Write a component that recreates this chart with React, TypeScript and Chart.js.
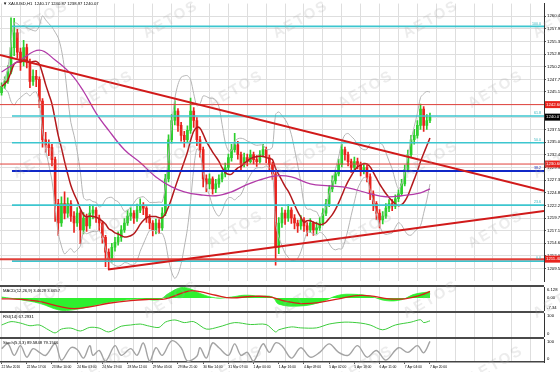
import React, { useEffect, useRef } from "react";
import { Chart, registerables } from "chart.js";
Chart.register(...registerables);

const FONT = '"Liberation Sans", Arial, sans-serif';
const X_MIN = -0.5;
const X_MAX = 172.2;
const AXIS_W = 16;
const GRID = "#dedede";

// ---------- price data (2-hour candles, index 0..136) ----------
const firstOpen = 1245.0;
const closes = [
  1246.3, 1247.3, 1249.2, 1254.1, 1257.1, 1253.2, 1251.2, 1254.1, 1251.2, 1247.3,
  1248.3, 1247.7, 1243.3, 1235.5, 1234.5, 1233.9, 1231.5, 1222.6, 1218.7, 1222.6,
  1220.7, 1222.6, 1220.1, 1218.7, 1220.7, 1217.3, 1219.7, 1218.1, 1220.7, 1221.3,
  1219.7, 1218.7, 1215.8, 1212.8, 1211.4, 1213.8, 1214.8, 1215.8, 1217.3, 1218.7,
  1220.1, 1220.7, 1219.7, 1221.3, 1222.1, 1221.7, 1219.7, 1218.7, 1217.3, 1218.7,
  1217.7, 1220.7, 1227.6, 1235.5, 1239.4, 1241.3, 1238.4, 1236.4, 1235.5, 1237.4,
  1241.3, 1239.4, 1235.5, 1233.5, 1227.6, 1226.6, 1227.6, 1225.6, 1226.6, 1227.6,
  1228.6, 1229.9, 1231.9, 1233.5, 1234.5, 1232.5, 1230.5, 1231.9, 1231.1, 1232.5,
  1231.5, 1231.1, 1232.5, 1233.5, 1231.9, 1230.5, 1228.6, 1213.8, 1218.7, 1220.7,
  1219.7, 1221.3, 1219.7, 1218.7, 1218.1, 1219.3, 1218.1, 1217.3, 1218.7, 1217.3,
  1217.7, 1218.7, 1220.7, 1222.6, 1225.6, 1227.2, 1228.6, 1230.5, 1233.5, 1232.5,
  1231.1, 1229.9, 1231.1, 1230.5, 1229.1, 1229.9, 1228.0, 1224.6, 1222.6, 1220.7,
  1219.3, 1220.1, 1221.7, 1222.6, 1222.1, 1223.6, 1224.6, 1226.6, 1229.5, 1232.5,
  1235.5, 1236.4, 1238.4, 1241.7, 1238.4, 1239.4, 1240.07,
];
const highs = [
  1247.0, 1248.2, 1250.5, 1260.1, 1260.0, 1257.8, 1254.0, 1255.6, 1254.8, 1251.8,
  1249.6, 1249.5, 1248.2, 1243.8, 1237.0, 1235.5, 1234.6, 1232.0, 1223.5, 1224.0,
  1225.0, 1223.8, 1223.2, 1221.0, 1221.8, 1221.2, 1220.8, 1220.5, 1222.4, 1222.2,
  1221.8, 1220.3, 1219.0, 1216.2, 1213.5, 1214.6, 1215.8, 1216.9, 1218.2, 1219.6,
  1221.3, 1221.8, 1221.2, 1222.5, 1223.6, 1222.8, 1222.0, 1220.4, 1219.2, 1219.5,
  1219.4, 1221.8, 1228.5, 1236.5, 1240.6, 1243.4, 1241.8, 1239.0, 1237.2, 1238.3,
  1243.9, 1242.0, 1240.0, 1236.2, 1234.0, 1228.4, 1228.6, 1228.0, 1227.5, 1228.4,
  1229.3, 1230.8, 1232.6, 1234.6, 1236.8, 1235.2, 1233.0, 1232.8, 1232.6, 1233.4,
  1233.0, 1232.3, 1233.3, 1234.6, 1234.0, 1232.4, 1231.0, 1229.0, 1219.8, 1221.8,
  1221.3, 1222.4, 1221.8, 1220.4, 1219.3, 1220.2, 1219.8, 1218.8, 1219.6, 1219.0,
  1218.9, 1219.8, 1221.6, 1223.5, 1226.3, 1228.2, 1229.4, 1231.6, 1234.6, 1234.0,
  1233.0, 1231.6, 1232.0, 1231.8, 1231.0, 1230.8, 1230.4, 1228.6, 1225.2, 1223.0,
  1221.4, 1221.0, 1222.6, 1223.4, 1223.4, 1224.4, 1225.4, 1227.5, 1230.4, 1233.4,
  1236.4, 1237.6, 1239.4, 1242.7, 1242.2, 1240.6, 1240.87,
];
const lows = [
  1244.5, 1245.8, 1246.9, 1248.8, 1252.5, 1252.0, 1249.5, 1250.4, 1250.0, 1246.0,
  1246.5, 1246.2, 1242.0, 1234.0, 1233.0, 1232.3, 1230.2, 1219.0, 1216.2, 1218.0,
  1219.5, 1219.8, 1219.0, 1216.8, 1218.0, 1214.5, 1216.5, 1217.0, 1217.6, 1219.5,
  1218.8, 1217.2, 1214.6, 1209.9, 1209.3, 1210.8, 1213.0, 1214.2, 1215.0, 1216.8,
  1218.2, 1219.2, 1218.6, 1219.0, 1220.8, 1220.4, 1218.8, 1217.5, 1216.1, 1216.5,
  1216.6, 1217.2, 1220.2, 1227.0, 1234.8, 1238.5, 1237.2, 1235.2, 1234.0, 1235.0,
  1236.8, 1238.0, 1234.3, 1232.0, 1226.0, 1225.0, 1225.6, 1224.5, 1224.8, 1225.9,
  1227.0, 1228.0, 1229.4, 1231.2, 1233.0, 1231.6, 1229.4, 1230.0, 1230.2, 1230.8,
  1230.6, 1230.1, 1230.8, 1232.0, 1230.9, 1229.4, 1227.5, 1210.2, 1212.5, 1217.8,
  1218.4, 1219.0, 1218.6, 1217.5, 1216.8, 1217.4, 1217.0, 1216.1, 1216.8, 1216.2,
  1216.5, 1217.2, 1218.2, 1220.2, 1222.0, 1225.0, 1226.6, 1228.2, 1230.0, 1231.4,
  1230.2, 1228.9, 1229.4, 1229.6, 1228.2, 1228.6, 1227.0, 1223.4, 1221.2, 1219.4,
  1217.7, 1218.5, 1219.6, 1221.0, 1221.2, 1221.6, 1223.0, 1224.2, 1226.2, 1229.0,
  1232.0, 1234.6, 1235.8, 1237.6, 1237.2, 1237.6, 1238.97,
];

// long moving average (purple)
const purpleIdx = [0, 6, 12, 17, 22, 26, 30, 34, 39, 44, 49, 54, 58, 63, 68, 73, 77, 82, 87, 92, 98, 104, 110, 117, 122, 127, 133, 136];
const purpleVal = [1249.2, 1251.6, 1253.6, 1251.6, 1248.8, 1245.3, 1240.9, 1237.4, 1233.5, 1230.9, 1228.0, 1226.0, 1225.0, 1224.4, 1224.2, 1225.0, 1226.2, 1227.4, 1228.2, 1228.0, 1226.6, 1226.2, 1225.8, 1224.6, 1224.0, 1224.2, 1224.8, 1225.6];

// levels and trend lines
const fibLevels = [1211.0, 1222.3, 1229.2, 1234.9, 1240.3, 1258.4];
const fibNames = ["0.0", "23.6", "38.2", "50.0", "61.8", "100.0"];
const fibStart = 3.3;
const redLevels = [1242.6, 1230.6, 1211.4];
const redWidths = [1, 1, 2];
const trendDownX = [X_MIN, X_MAX];
const trendDownY = [1252.6, 1225.2];
const trendUpX = [33.8, X_MAX];
const trendUpY = [1209.3, 1221.1];

// axes
const priceTicks = [1260.45, 1257.9, 1255.35, 1252.8, 1250.25, 1247.7, 1245.15, 1242.6, 1240.05, 1237.5, 1235.0, 1232.45, 1229.9, 1227.35, 1224.8, 1222.25, 1219.7, 1217.14, 1214.6, 1212.05, 1209.5];
const priceMin = 1206.9;
const priceMax = 1263.0;
const timeTickIdx = [0, 8, 16, 24, 32, 40, 48, 56, 64, 72, 80, 88, 96, 104, 112, 120, 128, 136];
const timeLabels = ["22 Mar 2016", "22 Mar 17:00", "23 Mar 10:00", "24 Mar 03:00", "24 Mar 19:00", "28 Mar 12:00", "29 Mar 05:00", "29 Mar 21:00", "30 Mar 14:00", "31 Mar 07:00", "1 Apr 00:00", "1 Apr 16:00", "4 Apr 09:00", "5 Apr 02:00", "5 Apr 18:00", "6 Apr 11:00", "7 Apr 04:00", "7 Apr 20:00"];

// MACD
const macdIdx = [0, 6, 12, 19, 25, 31, 38, 44, 50, 53, 57, 60, 63, 68, 73, 77, 82, 86, 88, 95, 101, 107, 112, 117, 122, 127, 131, 136];
const macdMain = [0.5, -1.0, -3.0, -7.0, -6.0, -3.5, -1.5, -0.5, -1.0, 2.5, 5.8, 5.0, 2.5, 0, 0.5, 1.5, 1.0, 0.5, -3.5, -4.5, -2.5, 1.5, 2.0, 1.0, -1.5, -1.0, 2.0, 3.46];
const signalIdx = [0, 6, 12, 19, 23, 28, 34, 41, 47, 52, 57, 60, 63, 68, 73, 79, 85, 90, 95, 101, 107, 112, 117, 123, 128, 133, 136];
const macdSignal = [-0.5, -0.8, -2.0, -5.0, -6.0, -5.0, -3.0, -1.5, -0.8, -0.5, 2.5, 4.0, 3.5, 1.5, 0, 0.8, 0.6, -1.8, -3.2, -2.5, -0.5, 1.2, 1.2, -0.5, -0.5, 1.5, 3.66];
const macdMin = -7.34;
const macdMax = 6.128;

// RSI
const rsiIdx = [0, 3, 6, 9, 12, 15, 17, 19, 22, 25, 28, 31, 34, 38, 41, 44, 47, 50, 52, 55, 58, 61, 65, 69, 74, 79, 84, 87, 88, 92, 95, 100, 104, 109, 114, 117, 121, 125, 130, 133, 134, 136];
const rsiVal = [50, 64, 58, 47, 50, 29, 17, 33, 37, 25, 40, 37, 21, 45, 50, 54, 45, 40, 62, 71, 60, 64, 33, 42, 60, 52, 52, 21, 30, 42, 38, 38, 54, 62, 58, 50, 30, 50, 62, 72, 60, 67.29];

// Stochastic
const stochIdx = [0, 2, 4, 6, 8, 10, 12, 14, 17, 19, 22, 24, 26, 28, 29, 31, 33, 36, 38, 41, 43, 45, 47, 49, 51, 54, 57, 59, 62, 63, 65, 67, 69, 72, 74, 76, 78, 80, 83, 85, 87, 89, 92, 95, 98, 101, 104, 107, 110, 113, 116, 119, 122, 126, 129, 132, 134, 136];
const stochVal = [58, 79, 29, 71, 21, 58, 42, 29, 79, 8, 62, 54, 17, 71, 29, 50, 4, 71, 29, 58, 29, 83, 4, 62, 29, 92, 62, 4, 25, 62, 17, 83, 62, 29, 79, 29, 42, 4, 79, 42, 83, 71, 17, 62, 21, 42, 79, 42, 29, 71, 21, 50, 8, 62, 42, 71, 40, 89.58];

// ---------- derived (indicators computed from the candles) ----------
const opens = closes.map((c, i) => (i === 0 ? firstOpen : closes[i - 1]));
function windowOf(a: number[], i: number, p: number) {
  return a.slice(Math.max(0, i - p + 1), i + 1);
}
const maPeriod = 10;
const ma = closes.map((_, i) => {
  const w = windowOf(closes, i, maPeriod);
  return w.reduce((s, v) => s + v, 0) / w.length;
});
const bbUpper = closes.map((_, i) => {
  const w = windowOf(closes, i, maPeriod);
  const m = ma[i];
  const sd = Math.sqrt(w.reduce((s, v) => s + (v - m) * (v - m), 0) / w.length);
  return m + 2 * sd;
});
const bbLower = closes.map((_, i) => {
  const w = windowOf(closes, i, maPeriod);
  const m = ma[i];
  const sd = Math.sqrt(w.reduce((s, v) => s + (v - m) * (v - m), 0) / w.length);
  return m - 2 * sd;
});

const BULL = "#2ccf2c";
const BEAR = "#e8231d";
const candleColors = closes.map((c, i) => (c >= opens[i] ? BULL : BEAR));

function pts(xs: number[], ys: number[]) {
  return xs.map((x, k) => ({ x, y: ys[k] }));
}
const gridIdx: number[] = [];
for (let v = 0; v <= X_MAX; v += 6) gridIdx.push(v);

function font(size: number) {
  return `${size}px ${FONT}`;
}

function gridX(): any {
  return {
    type: "linear",
    min: X_MIN,
    max: X_MAX,
    offset: false,
    afterBuildTicks: (ax: any) => {
      ax.ticks = gridIdx.map((v) => ({ value: v }));
    },
    afterFit: (ax: any) => {
      ax.height = 0;
    },
    ticks: { display: false },
    grid: { color: GRID, drawTicks: false, offset: false, lineWidth: 1 },
    border: { display: false },
  };
}

function subY(min: number, max: number): any {
  return {
    type: "linear",
    position: "right",
    min,
    max,
    ticks: { display: false },
    grid: { display: false },
    border: { display: true, color: "#333" },
    afterFit: (ax: any) => {
      ax.width = AXIS_W;
    },
  };
}

function lineDs(data: any[], color: string, width: number, extra: any = {}): any {
  return {
    type: "line",
    data,
    borderColor: color,
    backgroundColor: color,
    borderWidth: width,
    pointRadius: 0,
    fill: false,
    tension: 0,
    spanGaps: true,
    ...extra,
  };
}

function textPlugin(id: string, title: string, axisLabels: { v: number; t: string }[]) {
  return {
    id,
    afterDraw(chart: any) {
      const { ctx, chartArea, scales } = chart;
      ctx.save();
      ctx.font = font(4.2);
      ctx.fillStyle = "#000";
      ctx.textBaseline = "top";
      ctx.textAlign = "left";
      ctx.fillText(title, 3, chartArea.top + 2);
      ctx.textBaseline = "middle";
      axisLabels.forEach((l) => {
        let y = scales.y.getPixelForValue(l.v);
        y = Math.min(Math.max(y, chartArea.top + 3), chartArea.bottom - 3);
        ctx.fillText(l.t, chartArea.right + 3, y);
      });
      ctx.restore();
    },
  };
}

function mainConfig(): any {
  const datasets: any[] = [];
  datasets.push(lineDs(pts(trendDownX, trendDownY), "#d11a1a", 2, { order: 0 }));
  datasets.push(lineDs(pts(trendUpX, trendUpY), "#d11a1a", 2, { order: 0 }));
  redLevels.forEach((v, k) =>
    datasets.push(lineDs(pts([X_MIN, X_MAX], [v, v]), "#e0403a", redWidths[k], { order: 1 }))
  );
  fibLevels.forEach((v, k) =>
    datasets.push(
      lineDs(pts([fibStart, X_MAX], [v, v]), k === 2 ? "#1028c8" : "#3cc6cf", k === 2 ? 2.2 : 1.6, { order: 1 })
    )
  );
  datasets.push(lineDs(pts(purpleIdx, purpleVal), "#b23aa8", 1.3, { order: 2, tension: 0.4 }));
  datasets.push(lineDs(closes.map((_, i) => ({ x: i, y: ma[i] })), "#b3191c", 1.5, { order: 2, tension: 0.3 }));
  datasets.push(lineDs(closes.map((_, i) => ({ x: i, y: bbUpper[i] })), "#b5b5b5", 1, { order: 3, tension: 0.3 }));
  datasets.push(lineDs(closes.map((_, i) => ({ x: i, y: bbLower[i] })), "#b5b5b5", 1, { order: 3, tension: 0.3 }));
  datasets.push({
    type: "bar",
    data: closes.map((_, i) => ({ x: i, y: [lows[i], highs[i]] })),
    backgroundColor: candleColors,
    barThickness: 1,
    grouped: false,
    order: 5,
  });
  datasets.push({
    type: "bar",
    data: closes.map((c, i) => ({ x: i, y: [opens[i], c] })),
    backgroundColor: candleColors,
    barThickness: 2,
    minBarLength: 1,
    grouped: false,
    order: 4,
  });

  const boxes = [
    { v: 1242.6, bg: "#e8231d", t: "1242.60" },
    { v: 1240.07, bg: "#000000", t: "1240.07" },
    { v: 1230.6, bg: "#e8231d", t: "1230.60" },
    { v: 1211.4, bg: "#e8231d", t: "1211.40" },
  ];

  return {
    type: "bar",
    data: { datasets },
    options: {
      responsive: false,
      animation: false,
      events: [],
      layout: { padding: 0 },
      plugins: { legend: { display: false }, tooltip: { enabled: false } },
      scales: {
        x: gridX(),
        y: {
          type: "linear",
          position: "right",
          min: priceMin,
          max: priceMax,
          afterBuildTicks: (ax: any) => {
            ax.ticks = priceTicks.map((v) => ({ value: v }));
          },
          afterFit: (ax: any) => {
            ax.width = AXIS_W;
          },
          ticks: {
            font: { size: 4.3, family: FONT },
            color: "#000",
            padding: 1,
            callback: (v: any) => Number(v).toFixed(2),
          },
          grid: { color: GRID, tickLength: 2, tickColor: "#555" },
          border: { display: true, color: "#333" },
        },
      },
    },
    plugins: [
      {
        id: "mainText",
        afterDraw(chart: any) {
          const { ctx, chartArea, scales } = chart;
          ctx.save();
          ctx.font = font(4.2);
          ctx.textBaseline = "top";
          ctx.fillStyle = "#000";
          ctx.fillText("\u25BC XAUUSD,H1  1240.17 1240.87 1238.97 1240.07", 3, 2);
          ctx.font = font(3.6);
          ctx.textAlign = "right";
          ctx.textBaseline = "bottom";
          fibLevels.forEach((v, k) => {
            const y = scales.y.getPixelForValue(v);
            ctx.fillStyle = k === 2 ? "#1028c8" : "#2fb2bb";
            ctx.fillText(fibNames[k], chartArea.right - 3, y - 1);
          });
          ctx.textAlign = "left";
          ctx.textBaseline = "middle";
          ctx.font = font(4.3);
          boxes.forEach((b) => {
            const y = scales.y.getPixelForValue(b.v);
            ctx.fillStyle = b.bg;
            ctx.fillRect(chartArea.right + 1, y - 3.5, AXIS_W - 1, 7);
            ctx.fillStyle = "#fff";
            ctx.fillText(b.t, chartArea.right + 2, y);
          });
          ctx.restore();
        },
      },
    ],
  };
}

function macdConfig(): any {
  return {
    type: "line",
    data: {
      datasets: [
        lineDs(pts(macdIdx, macdMain), "#2ef02e", 0.8, { fill: "origin", backgroundColor: "#2ef02e", tension: 0.4, order: 2 }),
        lineDs(pts(signalIdx, macdSignal), "#d8201c", 1.3, { tension: 0.4, order: 1 }),
      ],
    },
    options: {
      responsive: false,
      animation: false,
      events: [],
      layout: { padding: 0 },
      plugins: { legend: { display: false }, tooltip: { enabled: false } },
      scales: { x: gridX(), y: subY(macdMin, macdMax) },
    },
    plugins: [
      textPlugin("macdText", "MACD(12,26,9) 3.4628 3.6657", [
        { v: macdMax, t: "6.128" },
        { v: 0, t: "0.00" },
        { v: macdMin, t: "-7.34" },
      ]),
    ],
  };
}

function rsiConfig(): any {
  return {
    type: "line",
    data: { datasets: [lineDs(pts(rsiIdx, rsiVal), "#3ccc3c", 1, { tension: 0.3 })] },
    options: {
      responsive: false,
      animation: false,
      events: [],
      layout: { padding: 0 },
      plugins: { legend: { display: false }, tooltip: { enabled: false } },
      scales: { x: gridX(), y: subY(0, 100) },
    },
    plugins: [textPlugin("rsiText", "RSI(14) 67.2931", [{ v: 100, t: "100" }, { v: 0, t: "0" }])],
  };
}

function stochConfig(): any {
  return {
    type: "line",
    data: { datasets: [lineDs(pts(stochIdx, stochVal), "#a3a3a3", 1.4, { tension: 0.35 })] },
    options: {
      responsive: false,
      animation: false,
      events: [],
      layout: { padding: 0 },
      plugins: { legend: { display: false }, tooltip: { enabled: false } },
      scales: {
        x: gridX(),
        xl: {
          type: "linear",
          position: "bottom",
          min: X_MIN,
          max: X_MAX,
          offset: false,
          afterBuildTicks: (ax: any) => {
            ax.ticks = timeTickIdx.map((v) => ({ value: v }));
          },
          afterFit: (ax: any) => {
            ax.height = 10;
          },
          ticks: {
            display: true,
            autoSkip: false,
            maxRotation: 0,
            minRotation: 0,
            align: "start",
            padding: 1,
            color: "#000",
            font: { size: 3.3, family: FONT },
            callback: (_v: any, i: number) => timeLabels[i],
          },
          grid: { drawOnChartArea: false, drawTicks: true, tickLength: 2, color: "#555" },
          border: { display: true, color: "#444", width: 1.5 },
        },
        y: subY(0, 100),
      },
    },
    plugins: [textPlugin("stochText", "Stoch(5,3,3) 89.5848 79.1566", [{ v: 100, t: "100" }, { v: 0, t: "0" }])],
  };
}

const wmRows = [20, 90, 160, 230, 300, 365];
const wmCols = [40, 170, 300, 430, 560];

export default function App() {
  const mainRef = useRef<HTMLCanvasElement>(null);
  const macdRef = useRef<HTMLCanvasElement>(null);
  const rsiRef = useRef<HTMLCanvasElement>(null);
  const stochRef = useRef<HTMLCanvasElement>(null);

  useEffect(() => {
    const charts = [
      new Chart(mainRef.current as HTMLCanvasElement, mainConfig()),
      new Chart(macdRef.current as HTMLCanvasElement, macdConfig()),
      new Chart(rsiRef.current as HTMLCanvasElement, rsiConfig()),
      new Chart(stochRef.current as HTMLCanvasElement, stochConfig()),
    ];
    return () => charts.forEach((c) => c.destroy());
  }, []);

  const abs = (top: number, h: number): React.CSSProperties => ({
    position: "absolute",
    left: 0,
    top,
    width: 560,
    height: h,
  });
  const sep = (top: number): React.CSSProperties => ({
    position: "absolute",
    left: 0,
    top,
    width: 544,
    height: 2,
    background: "#4a4a4a",
  });

  return (
    <div style={{ position: "fixed", left: 0, top: 0, width: 560, height: 372, background: "#fff", overflow: "hidden", fontFamily: FONT }}>
      <canvas ref={mainRef} width={560} height={285} style={abs(0, 285)} />
      <div style={sep(285)} />
      <canvas ref={macdRef} width={560} height={24} style={abs(287, 24)} />
      <div style={sep(311)} />
      <canvas ref={rsiRef} width={560} height={24} style={abs(313, 24)} />
      <div style={sep(337)} />
      <canvas ref={stochRef} width={560} height={33} style={abs(339, 33)} />
      <div style={{ position: "absolute", left: 0, top: 0, width: 560, height: 372, pointerEvents: "none" }}>
        {wmRows.map((y, r) =>
          wmCols.map((x, c) => (
            <span
              key={`${r}-${c}`}
              style={{
                position: "absolute",
                left: x + (r % 2) * 65 - 40,
                top: y - 10,
                width: 80,
                textAlign: "center",
                fontSize: 15,
                fontWeight: 700,
                letterSpacing: 2,
                color: "rgba(170,170,170,0.22)",
                transform: "rotate(-30deg)",
                fontFamily: FONT,
              }}
            >
              AETOS
            </span>
          ))
        )}
      </div>
    </div>
  );
}
